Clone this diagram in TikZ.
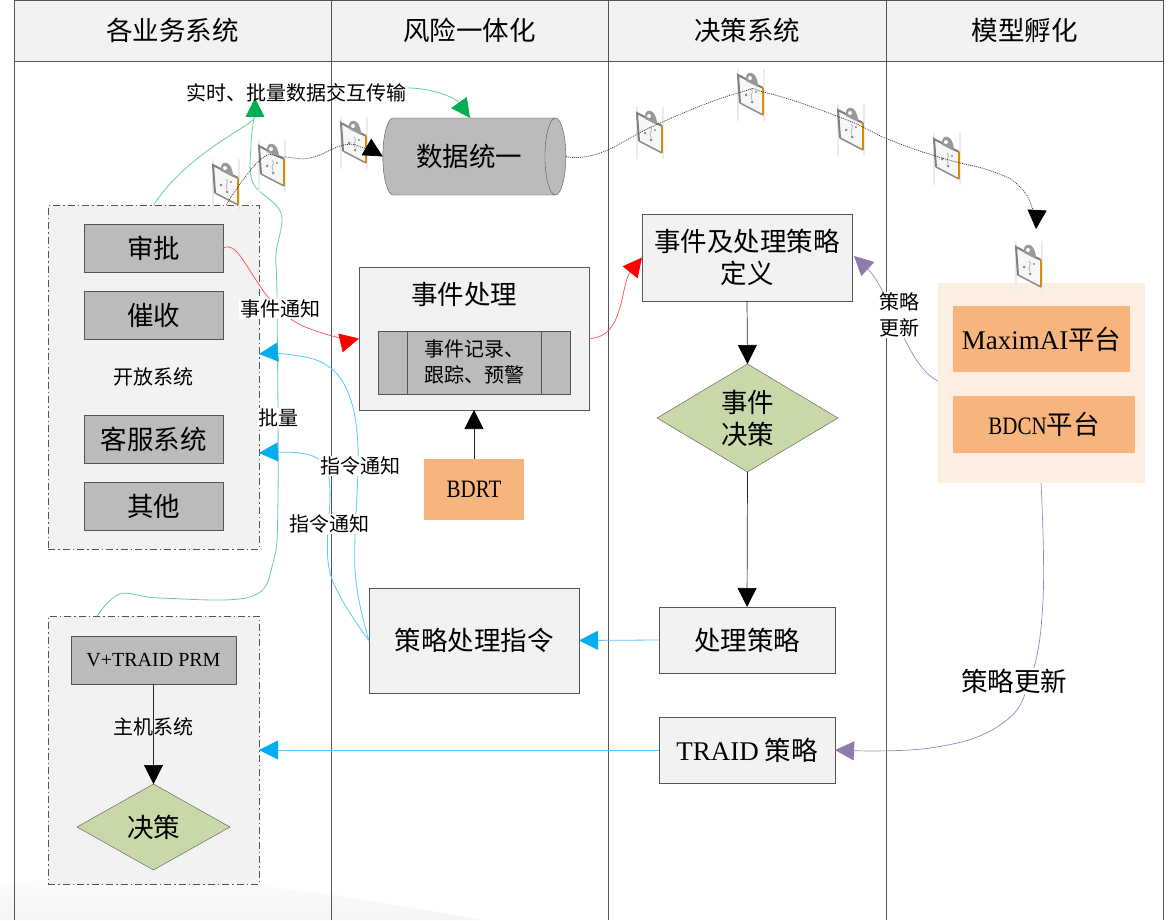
\documentclass[tikz,border=0pt]{standalone}
\usepackage{fontspec}
\setmainfont{Liberation Serif}
\newfontfamily\cjk{Noto Sans CJK SC}
\newfontfamily\narrow[FakeStretch=0.84]{Liberation Serif}
\usetikzlibrary{arrows.meta, shapes.geometric}
\definecolor{panelgray}{HTML}{F2F2F2}
\definecolor{boxgray}{HTML}{BBBBBB}
\definecolor{edgegray}{HTML}{555555}
\definecolor{leafgreen}{HTML}{C8D8A8}
\definecolor{peach}{HTML}{F7B47C}
\definecolor{paleorange}{HTML}{FDEEE2}
\definecolor{skyblue}{HTML}{00AEEF}
\definecolor{grassgreen}{HTML}{00B050}
\definecolor{violet}{HTML}{8F7AAE}
\tikzset{
    big/.style={font=\cjk\fontsize{26.5}{32}\selectfont},
    small/.style={font=\cjk\fontsize{20}{26}\selectfont},
    lane/.style={draw=edgegray, line width=0.9pt},
    header/.style={lane, fill=panelgray, big, minimum height=61pt, inner sep=0pt, outer sep=0pt},
    panel/.style={draw=edgegray, fill=panelgray, big, align=center, inner sep=0pt, outer sep=0pt},
    graybox/.style={draw=edgegray, fill=boxgray, big, align=center, inner sep=0pt, outer sep=0pt},
    peachbox/.style={fill=peach, big, align=center, inner sep=0pt, outer sep=0pt},
    group/.style={draw=edgegray, fill=panelgray, line width=0.9pt, dash pattern=on 7pt off 3pt on 1.5pt off 3pt, inner sep=0pt, outer sep=0pt},
    decision/.style={diamond, draw=edgegray, fill=leafgreen, big, align=center, inner sep=0pt, outer sep=0pt},
    label/.style={small, fill=white, inner sep=1pt},
    flow/.style={-{Triangle[length=19pt,width=19pt,color=black]}, draw=black!85, line width=0.7pt},
    redflow/.style={-{Triangle[length=19pt,width=19pt,color=red]}, draw=red!70!white, line width=0.7pt},
    blueflow/.style={-{Triangle[length=19pt,width=19pt,color=skyblue]}, draw=skyblue!65!white, line width=0.8pt},
    greenflow/.style={-{Triangle[length=19pt,width=19pt,color=grassgreen]}, draw=grassgreen!60!white, line width=0.8pt},
    violetflow/.style={-{Triangle[length=19pt,width=19pt,color=violet]}, draw=violet!90, line width=0.7pt},
    dotflow/.style={-{Triangle[length=19pt,width=19pt,color=black]}, draw=black!80, line width=0.7pt, dash pattern=on 1pt off 1pt},
    clipboard/.pic={
        \draw [black!8, line width=2.5pt] (-13,-25) -- (-13,27) (13,-25) -- (13,27);
        \fill [black!3] (-13,-19) -- (12,-6) -- (12,21) -- (-11,9) -- cycle;
        \draw [black!50, line width=2pt] (12,-6) -- (-13,-19) -- (-11,9);
        \draw [orange!70!yellow!85!black, line width=2pt] (12,-6) -- (12,21);
        \draw [black!45, line width=1.5pt] (12,21) -- (-11,9);
        \fill [black!40] (-5,-13) .. controls (-7,-25) and (7,-25) .. (7,-7) -- cycle;
        \fill [white] (-1,-16) circle (2);
        \fill [black!45] (-5,1) circle (1.5) (5,-2) circle (1.2) (1,8) circle (1.5);
        \draw [black!25, line width=1pt] (0,-5) .. controls (4,-2) and (-2,1) .. (1,6);
    },
}
\begin{document}
\begin{tikzpicture}[x=1pt, y=-1pt]
    \useasboundingbox (0,0) rectangle (1174,920);
    % faint shadow in the corner
    \shade [top color=white, bottom color=black!4] (0,920) -- (0,885) .. controls (120,865) and (300,885) .. (480,920) -- cycle;
    % lanes
    \foreach \x in {14,331,608,886,1163}
        \draw [lane] (\x,61) -- (\x,920);
    \node [header, minimum width=317pt] (bizhead) at (172.5,30.5) {各业务系统};
    \node [header, minimum width=277pt] (riskhead) at (469.5,30.5) {风险一体化};
    \node [header, minimum width=278pt] (dechead) at (747,30.5) {决策系统};
    \node [header, minimum width=277pt] (modelhead) at (1024.5,30.5) {模型孵化};

    % groups on the left
    \node [group, minimum width=211pt, minimum height=344pt] (opensys) at (153.5,377) {};
    \node [group, minimum width=211pt, minimum height=268pt] (hostsys) at (153.5,750) {};
    \node [graybox, minimum width=139pt, minimum height=48pt] (approve) at (153.5,248) {审批};
    \node [graybox, minimum width=139pt, minimum height=48pt] (collect) at (153.5,315) {催收};
    \node [small, inner sep=0pt] (opentext) at (153,377) {开放系统};
    \node [graybox, minimum width=139pt, minimum height=48pt] (service) at (153.5,439) {客服系统};
    \node [graybox, minimum width=139pt, minimum height=48pt] (other) at (153.5,506) {其他};
    \node [graybox, small, minimum width=165pt, minimum height=48pt] (prm) at (153.5,660) {\fontsize{20}{26}\rmfamily\selectfont V+TRAID PRM};
    \node [decision, aspect=1.78, minimum width=153pt, minimum height=86pt] (hostdec) at (153.5,827) {决策};

    % middle lane
    \node [cylinder, shape aspect=0.85, draw=edgegray, fill=boxgray, big, inner sep=0pt, outer sep=0pt,
        minimum width=77pt, minimum height=183pt] (unify) at (469,156.5) {数据统一};
    \node [panel, minimum width=230pt, minimum height=143pt] (event) at (474,338.5) {};
    \node [big, inner sep=0pt] (eventtitle) at (464,294) {事件处理};
    \node [graybox, small, minimum width=192pt, minimum height=63pt] (record) at (474,362.5) {};
    \draw [edgegray, line width=0.9pt] (407,331) -- (407,394) (541,331) -- (541,394);
    \node [small, align=left, inner sep=0pt] (recordtext) at (474,362) {事件记录、\\跟踪、预警};
    \node [peachbox, minimum width=100pt, minimum height=61pt] (bdrt) at (474,489.5) {\fontsize{25}{28}\narrow\selectfont BDRT};
    \node [panel, minimum width=210pt, minimum height=105pt] (order) at (474,640.5) {策略处理指令};

    % decision lane
    \node [panel, minimum width=210pt, minimum height=87pt] (define) at (747,257.5) {事件及处理策略\\定义};
    \node [decision, aspect=1.68, minimum width=181pt, minimum height=108pt] (eventdec) at (747.5,418) {事件\\决策};
    \node [panel, minimum width=176pt, minimum height=66pt] (policy) at (747,640) {处理策略};
    \node [panel, minimum width=176pt, minimum height=66pt] (traid) at (747,750) {{\rmfamily\fontsize{27}{32}\selectfont TRAID} 策略};

    % model lane
    \node [fill=paleorange, minimum width=207pt, minimum height=200pt, inner sep=0pt, outer sep=0pt] (platform) at (1041.5,383) {};
    \node [peachbox, minimum width=177pt, minimum height=66pt] (maxim) at (1041.5,339) {{\rmfamily\fontsize{27}{32}\selectfont MaximAI}平台};
    \node [peachbox, minimum width=182pt, minimum height=57pt] (bdcn) at (1044,424.5) {{\narrow\fontsize{25}{28}\selectfont BDCN}平台};

    % free ends
    \coordinate (opentop) at (153.5,205);
    \coordinate (hosttop) at (97,616);
    \coordinate (greentip) at (255,98);
    \coordinate (greenend) at (254,118);
    \coordinate (blueupper) at (259,354);
    \coordinate (bluelower) at (259,453);
    \coordinate (dotstart) at (226,205);
    \coordinate (dotend) at (1036,229);
    \coordinate (unifytop) at (470,118);
    \coordinate (syncright) at (408,88);
    \coordinate (platformbottom) at (1041,483);
    \coordinate (platformleft) at (938,381);
    \coordinate (definein) at (854,256);

    % green lines
    \draw [greenflow] (opentop) .. controls (190,150) and (255,125) .. (greentip);
    \draw [draw=grassgreen!60!white, line width=0.8pt] plot [smooth, tension=0.6] coordinates {(hosttop) (120,594) (160,598) (250,597) (273,563) (278,497) (277,300) (276,255) (281,213) (253,183) (251,145) (greenend)};
    \draw [greenflow] (syncright) .. controls (430,88) and (455,97) .. (unifytop);

    % documents with the dotted line over them
    \pic at (226,184) {clipboard};
    \pic at (272,165) {clipboard};
    \pic at (354,142) {clipboard};
    \pic at (650,132) {clipboard};
    \pic at (751,94) {clipboard};
    \pic at (851,129) {clipboard};
    \pic at (947,158) {clipboard};
    \pic at (1029,266) {clipboard};
    \draw [dotflow] plot [smooth, tension=0.8] coordinates {(dotstart) (260,160) (283,157) (310,158) (344,145) (364,148) (unify.west)};
    \draw [dotflow] plot [smooth, tension=0.8] coordinates {(unify.east) (600,153) (660,123) (738,93) (767,93) (842,118) (890,140) (942,158) (994,172) (1020,187) (1033,210) (dotend)};

    % red
    \draw [redflow] plot [smooth, tension=0.6] coordinates {(approve.east) (237,252) (268,297) (297,323) (340,338) (event.west)};
    \draw [redflow] (event.east) .. controls (625,338) and (620,285) .. (define.west);

    % blue
    \draw [blueflow] plot [smooth, tension=0.6] coordinates {(order.west) (355,570) (358,447) (347,390) (323,363) (285,354) (blueupper)};
    \draw [blueflow] plot [smooth, tension=0.6] coordinates {(order.west) (330,573) (330,490) (323,463) (300,453) (bluelower)};
    \draw [blueflow] (policy.west) -- (order.east);
    \draw [blueflow] (traid.west) -- (hostsys.east);

    % violet
    \draw [violetflow] (platformleft) .. controls (905,365) and (890,290) .. (definein);
    \draw [violetflow] plot [smooth, tension=0.7] coordinates {(platformbottom) (1043,600) (1030,680) (1000,725) (930,748) (traid.east)};

    % black
    \draw [flow] (define.south) -- (eventdec.north);
    \draw [flow] (eventdec.south) -- (policy.north);
    \draw [flow] (bdrt.north) -- (event.south);
    \draw [flow] (prm.south) -- (hostdec.north);

    % labels on the lines
    \node [small, inner sep=0pt] (synctext) at (296,93) {实时、批量数据交互传输};
    \node [label] (notify) at (280,309) {事件通知};
    \node [label, inner sep=0.5pt] (batch) at (278,418) {批量};
    \node [label] (orderone) at (360,466) {指令通知};
    \node [label] (ordertwo) at (329,524) {指令通知};
    \node [small, inner sep=0pt] (hosttext) at (153,727) {主机系统};
    \node [label, align=center, inner sep=0.5pt] (updateone) at (899,315) {策略\\更新};
    \node [big, fill=white, inner sep=1pt] (updatetwo) at (1014,681) {策略更新};
\end{tikzpicture}
\end{document}
